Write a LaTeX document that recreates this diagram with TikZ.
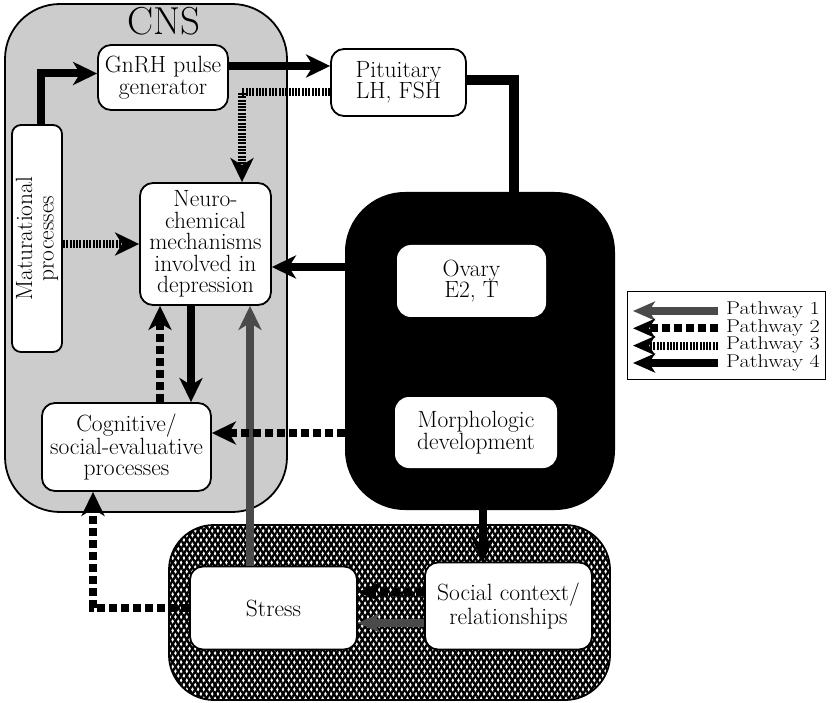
\documentclass[tikz,border=0pt]{standalone}
\usepackage{fontspec}
\usepackage{graphicx}
\usetikzlibrary{arrows.meta,patterns.meta}
\definecolor{pgray}{HTML}{4A4A4A}
\definecolor{cnsgray}{HTML}{CCCCCC}
\newcommand{\legstretch}[1]{\scalebox{1.2}[1]{#1}}
\begin{document}
\begin{tikzpicture}[x=1pt,y=-1pt,
  txt/.style={font=\fontsize{23.5}{21.5}\selectfont, align=center, inner sep=2pt},
  rbox/.style={txt, draw, line width=1.8pt, rounded corners=13pt, fill=white},
  ibox/.style={txt, fill=white, rounded corners=14pt},
  arrowtip/.style={-{Stealth[length=24pt,width=23pt,inset=7pt]}},
  legtip/.style={-{Stealth[length=22pt,width=19pt,inset=6pt]}},
  p4/.style={line width=8pt, draw=black},
  p1/.style={line width=8pt, draw=pgray},
  p2/.style={line width=8pt, draw=black, dash pattern=on 8pt off 4pt},
  p3/.style={line width=8pt, draw=black, dash pattern=on 2pt off 1.3pt},
  legtxt/.style={font=\fontsize{18.5}{19}\selectfont, anchor=west, inner sep=0pt, text height=10pt, text depth=2pt},
]
\useasboundingbox (0,0) rectangle (833,703);

% containers
\node (cnsbox) [draw, fill=cnsgray, line width=1.8pt, rounded corners=55pt,
  minimum width=282, minimum height=508, inner sep=0pt] at (146,258) {};
\node (cns) [font=\fontsize{39}{39}\selectfont, inner sep=0pt] at (164,21) {CNS};

\node (env) [preaction={fill=white},
  pattern={Lines[angle=58,distance=4.8pt,line width=2.3pt]},
  postaction={pattern={Lines[angle=122,distance=4.8pt,line width=2.3pt]}},
  draw, line width=1.8pt, rounded corners=45pt,
  minimum width=441, minimum height=175, inner sep=0pt] at (389.5,612.5) {};

\node (ovary) [fill=black, rounded corners=60pt, minimum width=270,
  minimum height=318, inner sep=0pt] at (480,351) {};

% nodes
\node (gnrh) [rbox, minimum width=130, minimum height=65] at (163,77.5) {GnRH pulse\\generator};
\node (pit) [rbox, minimum width=135, minimum height=67] at (398.5,82.5) {Pituitary\\LH, FSH};
\node (neuro) [rbox, minimum width=131, minimum height=122] at (205.5,244) {Neuro-\\chemical\\mechanisms\\involved in\\depression};
\node (cog) [rbox, minimum width=169, minimum height=88] at (126.5,447) {Cognitive/\\social-evaluative\\processes};
\node (mat) [rbox, rotate=90, minimum width=227, minimum height=50, rounded corners=9pt, inner sep=0pt] at (37,238.5) {Maturational\\processes};
\node (ov) [ibox, minimum width=149, minimum height=72] at (471.5,281) {Ovary\\E2, T};
\node (morph) [ibox, minimum width=162, minimum height=71] at (476,432.5) {Morphologic\\development};
\node (stress) [rbox, minimum width=167, minimum height=83] at (273.5,608) {Stress};
\node (social) [rbox, minimum width=167, minimum height=87] at (508.5,606) {Social context/\\relationships};

% connectors
\draw[p4, arrowtip] ([xshift=4pt]mat.east) |- ([yshift=4pt]gnrh.west);
\draw[p4, arrowtip] ([yshift=11.5pt]gnrh.east) -- ([yshift=16.5pt]pit.west);
\draw[p3, arrowtip] ([yshift=-9.5pt]pit.west) -| ([xshift=36.5pt]neuro.north);
\draw[line width=10pt] ([yshift=2.5pt]pit.east) -| ([xshift=34pt]ovary.north);
\draw[p3, arrowtip] (mat.south |- neuro.west) -- (neuro.west);

\coordinate (n4) at ([yshift=-23pt]neuro.east);
\draw[p4, arrowtip] (ovary.west |- n4) -- (n4);
\coordinate (a4) at ([xshift=-14.5pt]neuro.south);
\draw[p4, arrowtip] (a4) -- (a4 |- cog.north);
\coordinate (b2) at ([xshift=-45.5pt]neuro.south);
\draw[p2, arrowtip] (b2 |- cog.north) -- (b2);
\coordinate (c1) at ([xshift=-23.5pt]stress.north);
\draw[p1, arrowtip] (c1) -- (c1 |- neuro.south);
\coordinate (d2) at ([yshift=14pt]cog.east);
\draw[p2, arrowtip] (ovary.west |- d2) -- (d2);
\coordinate (e4) at ([xshift=-25.5pt]social.north);
\draw[p4, arrowtip] (e4 |- ovary.south) -- (e4);
\coordinate (f2) at ([yshift=14pt]social.west);
\draw[p2, legtip] (f2) -- (f2 -| stress.east);
\coordinate (f1) at ([yshift=-17pt]social.west);
\draw[p1, legtip] (f1) -- (f1 -| stress.east);
\coordinate (g2) at ([xshift=-33.5pt]cog.south);
\draw[p2, arrowtip] (stress.west) -| (g2);

% legend
\node (legend) [draw, line width=1pt, minimum width=198, minimum height=88, inner sep=0pt] at (726,336) {};
\coordinate (l1s) at (718,311); \coordinate (l1e) at (633,311);
\coordinate (l2s) at (718,328.3); \coordinate (l2e) at (633,328.3);
\coordinate (l3s) at (718,345.6); \coordinate (l3e) at (633,345.6);
\coordinate (l4s) at (718,363); \coordinate (l4e) at (633,363);
\draw[p1, legtip] (l1s) -- (l1e);
\draw[p2, legtip] (l2s) -- (l2e);
\draw[p3, legtip] (l3s) -- (l3e);
\draw[p4, legtip] (l4s) -- (l4e);
\node (t1) [legtxt] at (726,311) {\legstretch{Pathway 1}};
\node (t2) [legtxt] at (726,328.3) {\legstretch{Pathway 2}};
\node (t3) [legtxt] at (726,345.6) {\legstretch{Pathway 3}};
\node (t4) [legtxt] at (726,363) {\legstretch{Pathway 4}};
\end{tikzpicture}
\end{document}
